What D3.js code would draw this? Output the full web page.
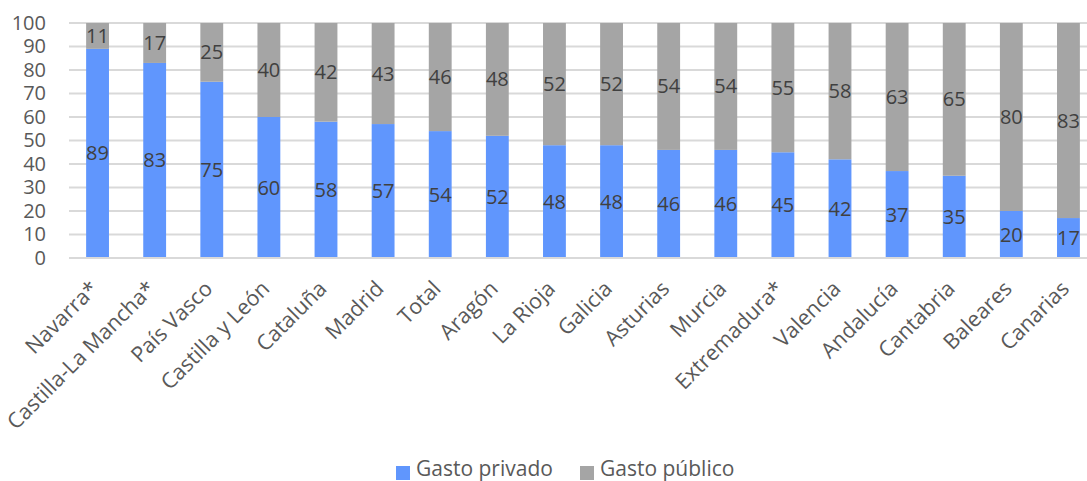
<html lang="es">
<head>
<meta charset="utf-8">
<title>Gasto privado vs público</title>
<style>
  body { margin: 0; background: white; font-family: "Open Sans", "Noto Sans", sans-serif; }
  .grid line { stroke: #d9d9d9; stroke-width: 2; }
  .axis text { fill: #595959; font-family: "Open Sans", sans-serif; }
  .lbl { fill: #404040; font-size: 20px; font-family: "Open Sans", sans-serif; }
</style>
</head>
<body>
<script src="https://cdnjs.cloudflare.com/ajax/libs/d3/7.8.5/d3.min.js"></script>
<script>
// datos
var regiones = ["Navarra*", "Castilla-La Mancha*", "País Vasco", "Castilla y León", "Cataluña", "Madrid", "Total", "Aragón", "La Rioja", "Galicia", "Asturias", "Murcia", "Extremadura*", "Valencia", "Andalucía", "Cantabria", "Baleares", "Canarias"];
var privado = [89, 83, 75, 60, 58, 57, 54, 52, 48, 48, 46, 46, 45, 42, 37, 35, 20, 17];
var publico = [11, 17, 25, 40, 42, 43, 46, 48, 52, 52, 54, 54, 55, 58, 63, 65, 80, 83];
var yTicks = [0, 10, 20, 30, 40, 50, 60, 70, 80, 90, 100];

var W = 1087, H = 481;
var svg = d3.select("body").append("svg").attr("width", W).attr("height", H);

var x = d3.scaleBand().domain(regiones).range([69, 1097]).paddingInner(0.6).paddingOuter(0.3);
var y = d3.scaleLinear().domain([0, 100]).range([258, 23]);

var colores = { privado: "#6096fd", publico: "#a5a5a5" };

// lineas de cuadricula
svg.append("g").attr("class", "grid")
  .selectAll("line").data(yTicks).enter().append("line")
  .attr("x1", 69).attr("x2", W)
  .attr("y1", function(d) { return y(d); }).attr("y2", function(d) { return y(d); });

// eje y
var yAxis = svg.append("g").attr("class", "axis")
  .attr("transform", "translate(58,0)")
  .call(d3.axisLeft(y).tickValues(yTicks).tickSize(0).tickPadding(12));
yAxis.select(".domain").remove();
yAxis.selectAll("text").style("font-size", "20px");

// barras apiladas
var datos = regiones.map(function(r, i) { return { r: r, priv: privado[i], pub: publico[i] }; });

var g = svg.selectAll(".bar").data(datos).enter().append("g");
g.append("rect")
  .attr("x", function(d) { return x(d.r); })
  .attr("width", x.bandwidth())
  .attr("y", function(d) { return y(d.priv); })
  .attr("height", function(d) { return y(0) - y(d.priv); })
  .attr("fill", colores.privado);
g.append("rect")
  .attr("x", function(d) { return x(d.r); })
  .attr("width", x.bandwidth())
  .attr("y", function(d) { return y(d.priv + d.pub); })
  .attr("height", function(d) { return y(d.priv) - y(d.priv + d.pub); })
  .attr("fill", colores.publico);

// etiquetas de valor
g.append("text").attr("class", "lbl")
  .attr("x", function(d) { return x(d.r) + x.bandwidth() / 2; })
  .attr("y", function(d) { return y(d.priv / 2); })
  .attr("text-anchor", "middle").attr("dy", "0.35em")
  .text(function(d) { return d.priv; });
g.append("text").attr("class", "lbl")
  .attr("x", function(d) { return x(d.r) + x.bandwidth() / 2; })
  .attr("y", function(d) { return y(d.priv + d.pub / 2); })
  .attr("text-anchor", "middle").attr("dy", "0.35em")
  .text(function(d) { return d.pub; });

// eje x (linea base)
svg.append("line").attr("x1", 69).attr("x2", W)
  .attr("y1", y(0)).attr("y2", y(0))
  .attr("stroke", "#d9d9d9").attr("stroke-width", 2);

var xAxis = svg.append("g").attr("class", "axis")
  .attr("transform", "translate(0," + y(0) + ")")
  .call(d3.axisBottom(x).tickSize(0));
xAxis.select(".domain").remove();
xAxis.selectAll("text")
  .style("font-size", "21.5px")
  .attr("text-anchor", "end")
  .attr("dy", "0")
  .attr("transform", "translate(2,32) rotate(-45)")
  .attr("y", 0).attr("x", 0);

// leyenda
var leyenda = [
  { t: "Gasto privado", c: colores.privado, x: 396 },
  { t: "Gasto público", c: colores.publico, x: 580 }
];
var lg = svg.selectAll(".leg").data(leyenda).enter().append("g")
  .attr("transform", function(d) { return "translate(" + d.x + ",466)"; });
lg.append("rect").attr("width", 14).attr("height", 14).attr("fill", function(d) { return d.c; });
lg.append("text").attr("x", 20).attr("y", 10).attr("fill", "#595959")
  .style("font-size", "21px").text(function(d) { return d.t; });
</script>
</body>
</html>
